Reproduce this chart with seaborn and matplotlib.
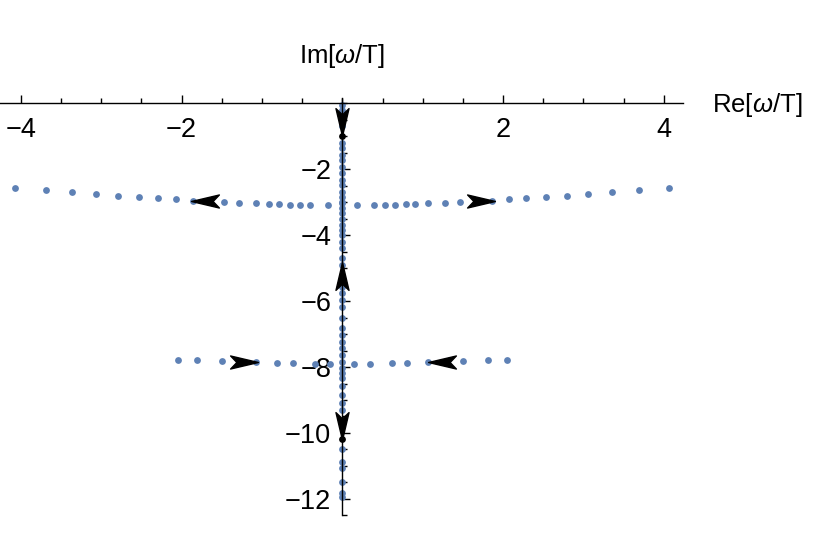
import numpy as np
import pandas as pd
import matplotlib
matplotlib.use("Agg")
import matplotlib.pyplot as plt
import seaborn as sns
from matplotlib.path import Path
from matplotlib.markers import MarkerStyle
from matplotlib.transforms import Affine2D
from matplotlib.ticker import MultipleLocator, FixedLocator

# quasinormal mode trajectories
upper_re = [0.18, 0.40, 0.53, 0.65, 0.79, 0.91, 1.07, 1.28, 1.47, 1.67, 1.86, 2.07,
            2.29, 2.53, 2.79, 3.06, 3.36, 3.69, 4.07]
upper_im = [-3.10, -3.09, -3.08, -3.08, -3.07, -3.06, -3.04, -3.02, -3.00, -2.98, -2.96,
            -2.92, -2.89, -2.85, -2.81, -2.76, -2.71, -2.64, -2.58]
lower_re = [0.15, 0.34, 0.62, 0.81, 1.07, 1.28, 1.50, 1.81, 2.05]
lower_im = [-7.91, -7.90, -7.89, -7.88, -7.85, -7.84, -7.83, -7.80, -7.79]
axis_im = [-0.06, -0.21, -0.45, -0.70, -1.22, -1.37, -1.58, -1.73, -1.93, -2.13, -2.33,
           -2.48, -2.69, -2.84, -2.99, -3.04, -3.19, -3.34, -3.50, -3.70, -3.85, -4.00,
           -4.20, -4.40, -4.70, -4.90, -5.57, -5.77, -5.97, -6.17, -6.52, -6.83, -7.03,
           -7.23, -7.43, -7.64, -7.84, -8.04, -8.19, -8.34, -8.59, -8.85, -9.10, -9.30,
           -10.50, -10.87, -11.07, -11.47, -11.83, -11.93]
start_re = [0.0, 0.0]
start_im = [-0.99, -10.19]

# arrows: centre and direction (degrees)
arrow_re = [-1.71, 1.72, -1.23, 1.24, 0.0, 0.0, 0.0]
arrow_im = [-2.97, -2.97, -7.84, -7.84, -0.59, -5.24, -9.78]
arrow_dir = [180, 0, 0, 180, 270, 90, 270]

re_all = ([-v for v in upper_re] + upper_re + [-v for v in lower_re] + lower_re
          + [0.0] * len(axis_im))
im_all = upper_im + upper_im + lower_im + lower_im + axis_im
df = pd.DataFrame({"re": re_all, "im": im_all})

sns.set_theme(style="white")
plt.rcParams["font.family"] = ["Liberation Sans", "DejaVu Sans"]
plt.rcParams["mathtext.fontset"] = "custom"
plt.rcParams["mathtext.rm"] = "Liberation Sans"
plt.rcParams["mathtext.it"] = "Liberation Sans:italic"
plt.rcParams["text.color"] = "black"
plt.rcParams["xtick.color"] = "black"
plt.rcParams["ytick.color"] = "black"

fig = plt.figure(figsize=(8.3, 5.54), dpi=100)
ax = fig.add_axes([0.0, 0.0695, 0.823, 0.7535])

blue = "#5e81b5"
sns.scatterplot(data=df, x="re", y="im", ax=ax, color=blue, s=24, linewidth=0, zorder=2)
ax.scatter(start_re, start_im, color="black", s=24, linewidth=0, zorder=4)

# Mathematica-style arrowhead
head = Path([(1, 0), (-1, 0.47), (-0.55, 0), (-1, -0.47), (1, 0)],
            [Path.MOVETO, Path.LINETO, Path.LINETO, Path.LINETO, Path.CLOSEPOLY])
for x, y, d in zip(arrow_re, arrow_im, arrow_dir):
    m = MarkerStyle(head, transform=Affine2D().rotate_deg(d))
    ax.plot(x, y, marker=m, markersize=20, color="black", linestyle="none", zorder=5)

ax.set_xlim(-4.26, 4.24)
ax.set_ylim(-12.5, 0.15)

for s in ["top", "right"]:
    ax.spines[s].set_visible(False)
ax.spines["left"].set_position(("data", 0))
ax.spines["bottom"].set_position(("data", 0))
for s in ["left", "bottom"]:
    ax.spines[s].set_color("black")
    ax.spines[s].set_linewidth(1.0)
    ax.spines[s].set_zorder(3)

ax.xaxis.set_major_locator(FixedLocator([-4, -2, 2, 4]))
ax.xaxis.set_minor_locator(MultipleLocator(0.5))
ax.yaxis.set_major_locator(FixedLocator([-2, -4, -6, -8, -10, -12]))
ax.yaxis.set_minor_locator(MultipleLocator(0.5))
ax.set_xticklabels(["\u22124", "\u22122", "2", "4"])
ax.set_yticklabels(["\u22122", "\u22124", "\u22126", "\u22128", "\u221210", "\u221212"])
ax.tick_params(which="both", direction="in", color="black", labelcolor="black",
               width=1.0, bottom=True, left=True, labelsize=19.5)
ax.tick_params(which="major", length=6)
ax.tick_params(which="minor", length=3.5)
ax.tick_params(axis="x", pad=10)
ax.tick_params(axis="y", pad=8)
ax.set_xlabel("")
ax.set_ylabel("")

fig.text(712 / 830, 1 - 112 / 554, r"Re[$\omega$/T]", fontsize=18.5, ha="left",
         va="baseline", color="black")
fig.text(342 / 830, 1 - 63 / 554, r"Im[$\omega$/T]", fontsize=18.5, ha="center",
         va="baseline", color="black")

fig.savefig("out.png", dpi=100)
